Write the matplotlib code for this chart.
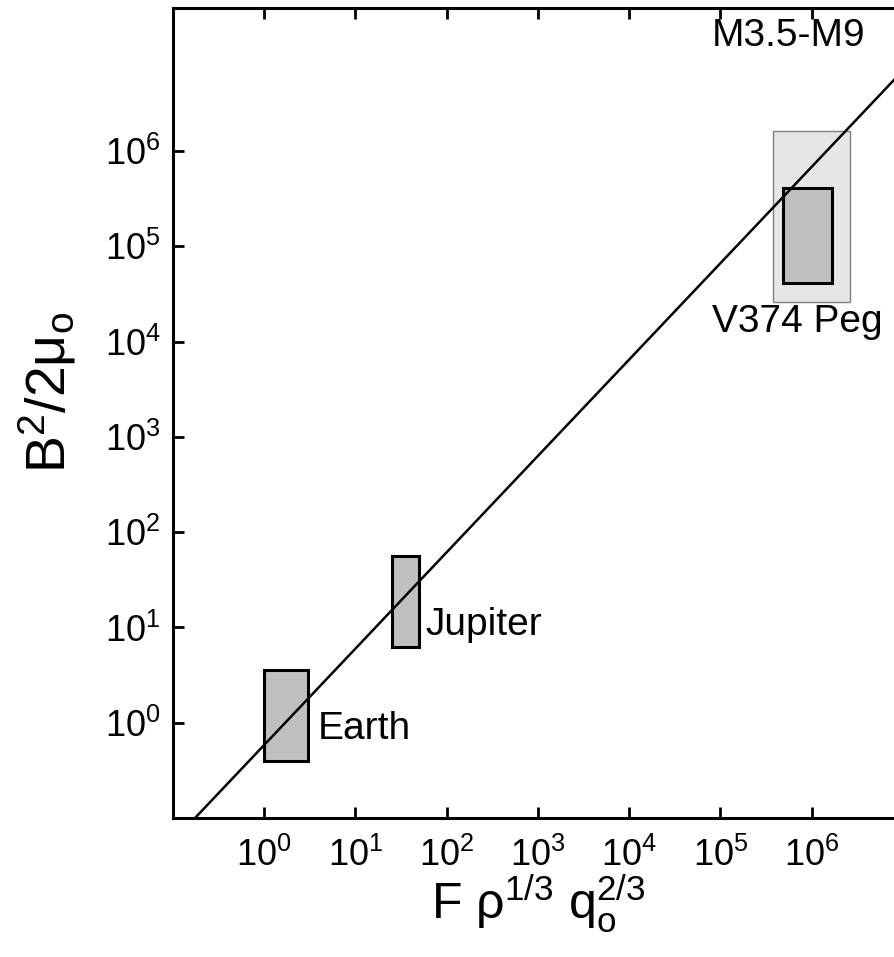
import matplotlib
matplotlib.use("Agg")
import matplotlib.pyplot as plt
from matplotlib.patches import Rectangle

plt.rcParams['font.family'] = ['Liberation Sans', 'DejaVu Sans']
plt.rcParams['mathtext.fontset'] = 'custom'
plt.rcParams['mathtext.rm'] = 'Liberation Sans'
plt.rcParams['mathtext.default'] = 'regular'

# energy flux scaling vs. magnetic energy density (log-log)
earth_x = [1.0, 3.0]
earth_y = [0.4, 3.6]
jupiter_x = [25.0, 50.0]
jupiter_y = [6.3, 56.0]
peg_outer_x = [3.8e5, 2.6e6]
peg_outer_y = [2.6e4, 1.6e6]
peg_inner_x = [4.8e5, 1.65e6]
peg_inner_y = [4.1e4, 4.1e5]

line_x = [1e-1, 1e7]
line_y = [5.7e-2, 7.0e6]

tick_vals = [1e0, 1e1, 1e2, 1e3, 1e4, 1e5, 1e6]

fig = plt.figure(figsize=(8.95, 9.57), dpi=100)
ax = fig.add_axes([173 / 895, 139 / 957, 730 / 895, 810 / 957])
ax.set_xscale('log')
ax.set_yscale('log')
ax.set_xlim(1e-1, 1e7)
ax.set_ylim(1e-1, 10 ** 7.5)


def box(xr, yr, face, edge, lw, z):
    r = Rectangle((xr[0], yr[0]), xr[1] - xr[0], yr[1] - yr[0],
                  facecolor=face, edgecolor=edge, linewidth=lw, zorder=z)
    ax.add_patch(r)


box(peg_outer_x, peg_outer_y, '#e6e6e6', '#7f7f7f', 1.0, 1)
box(peg_inner_x, peg_inner_y, '#c0c0c0', 'black', 2.2, 2)
box(earth_x, earth_y, '#c0c0c0', 'black', 2.2, 2)
box(jupiter_x, jupiter_y, '#c0c0c0', 'black', 2.2, 2)

ax.plot(line_x, line_y, color='black', lw=1.8, zorder=3)

ax.text(3.9, 0.85, 'Earth', fontsize=28, va='center', ha='left')
ax.text(58, 10.6, 'Jupiter', fontsize=28, va='center', ha='left')
ax.text(8.1e4, 1.6e4, 'V374 Peg', fontsize=28, va='center', ha='left')
ax.text(8.1e4, 1.6e7, 'M3.5-M9', fontsize=28, va='center', ha='left')

ax.set_xticks(tick_vals)
ax.set_yticks(tick_vals)
ax.minorticks_off()
ax.tick_params(direction='in', top=True, right=False, length=8, width=2,
               labelsize=26)
ax.tick_params(axis='x', pad=14)
ax.tick_params(axis='y', pad=9)

for side in ['left', 'bottom', 'top']:
    ax.spines[side].set_linewidth(2.2)
ax.spines['right'].set_visible(False)

ax.set_xlabel(r'F ρ$^{1/3}$ q$_o^{2/3}$', fontsize=36)
ax.set_ylabel(r'B$^2$/2μ$_o$', fontsize=40)
ax.xaxis.set_label_coords(0.5, -0.068)
ax.yaxis.set_label_coords(-0.13, 0.525)

fig.savefig('out.png', dpi=100)
